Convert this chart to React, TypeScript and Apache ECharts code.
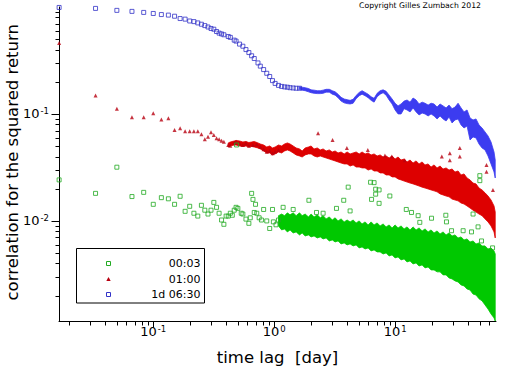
import React, { useEffect, useRef } from 'react';
import * as echarts from 'echarts';

// x values are lag indices k; one lag step is 24 minutes = 1/60 day
const LAG_STEP_DAYS = 1 / 60;
const X_MIN = 0.01663;
const X_MAX = 68;
const Y_MIN = 0.00116;
const Y_MAX = 1;
const SERIES_NAMES = ['00:03', '01:00', '1d 06:30'];
const X_LABEL_EXPONENTS = [-1, 0, 1];
const Y_LABEL_EXPONENTS = [-2, -1];
const X_TITLE = 'time lag\u00a0 [day]';
const Y_TITLE = 'correlation for the squared return';
const COPYRIGHT = 'Copyright Gilles Zumbach 2012';

// ---- 1d 06:30 (blue) : [k, value]
const BLUE_POINTS: number[][] = [
  [1, 0.99], [2, 0.97], [3, 0.93], [4, 0.91], [5, 0.89], [6, 0.87], [7, 0.85], [8, 0.84], [9, 0.82],
  [10, 0.78], [11, 0.77], [12, 0.74], [13, 0.73], [14, 0.71], [15, 0.69], [16, 0.67], [17, 0.65],
  [18, 0.63], [19, 0.62], [20, 0.59], [21, 0.57], [22, 0.56], [23, 0.55], [25, 0.53], [26, 0.52],
  [28, 0.49], [29, 0.48], [31, 0.45], [33, 0.43], [35, 0.4], [37, 0.375], [39, 0.35], [41, 0.33],
  [44, 0.3], [46, 0.28], [49, 0.26], [52, 0.24], [55, 0.224], [58, 0.205], [61, 0.193], [65, 0.185],
  [69, 0.181], [73, 0.179], [77, 0.178], [81, 0.176], [86, 0.175], [91, 0.174], [97, 0.174],
];
// dense part : [k, upper value, lower value]
const BLUE_BAND: number[][] = [
  [97, 0.18, 0.169], [102, 0.178, 0.167], [108, 0.176, 0.165], [115, 0.173, 0.161], [121, 0.168, 0.158],
  [128, 0.167, 0.156], [136, 0.165, 0.155], [144, 0.165, 0.155], [152, 0.167, 0.156], [161, 0.17, 0.16],
  [171, 0.17, 0.16], [181, 0.165, 0.153], [191, 0.161, 0.15], [202, 0.153, 0.142], [214, 0.143, 0.132],
  [227, 0.138, 0.127], [240, 0.136, 0.125], [254, 0.134, 0.124], [269, 0.137, 0.126], [285, 0.149, 0.139],
  [302, 0.159, 0.148], [319, 0.165, 0.153], [338, 0.159, 0.148], [358, 0.153, 0.142], [379, 0.145, 0.134],
  [401, 0.14, 0.129], [425, 0.156, 0.145], [450, 0.165, 0.153], [476, 0.168, 0.158], [504, 0.163, 0.15],
  [534, 0.15, 0.135], [565, 0.138, 0.124], [598, 0.126, 0.109], [633, 0.119, 0.1], [670, 0.124, 0.1],
  [710, 0.132, 0.112], [751, 0.135, 0.109], [795, 0.129, 0.1045], [842, 0.141, 0.114], [892, 0.135, 0.1045],
  [944, 0.124, 0.0979], [1000, 0.129, 0.102], [1058, 0.126, 0.1], [1121, 0.121, 0.0958], [1186, 0.126, 0.1],
  [1256, 0.124, 0.0958], [1330, 0.116, 0.0898], [1408, 0.124, 0.0958], [1490, 0.119, 0.0898],
  [1578, 0.114, 0.086], [1670, 0.121, 0.0938], [1768, 0.112, 0.0824], [1872, 0.116, 0.0879],
  [1982, 0.126, 0.0898], [2098, 0.114, 0.0789], [2221, 0.1045, 0.074], [2352, 0.109, 0.0772],
  [2490, 0.0918, 0.0571], [2636, 0.0879, 0.061], [2790, 0.0898, 0.0597], [2954, 0.0789, 0.0524],
  [3128, 0.074, 0.0481], [3311, 0.0679, 0.0461], [3505, 0.0623, 0.0405], [3711, 0.0547, 0.0341],
  [3929, 0.0441, 0.0287], [4020, 0.0371, 0.0252],
];

// ---- 01:00 (red) : [k, value]
const RED_POINTS: number[][] = [
  [1, 0.46], [2, 0.149], [3, 0.112], [4, 0.093], [5, 0.093], [6, 0.1015], [7, 0.089], [8, 0.091],
  [9, 0.071], [10, 0.0735], [11, 0.069], [12, 0.069], [13, 0.069], [14, 0.069], [15, 0.0646], [16, 0.058],
  [17, 0.0613], [18, 0.0674], [19, 0.0636], [20, 0.0593], [21, 0.058], [22, 0.0563], [23, 0.0551],
  [25, 0.0513], [26, 0.0505], [28, 0.0539], [29, 0.0551], [31, 0.0532], [33, 0.0513], [35, 0.0532],
  [37, 0.0505], [40, 0.0513], [43, 0.0521], [46, 0.0495], [49, 0.0468], [52, 0.0444], [55, 0.0454],
  [58, 0.043], [61, 0.0444], [65, 0.0461],
  [138, 0.066], [182, 0.057], [239, 0.048], [356, 0.046], [493, 0.041], [562, 0.04], [719, 0.037],
  [1455, 0.04], [1694, 0.043], [1694, 0.037], [2050, 0.048], [2050, 0.04], [3406, 0.0334], [3406, 0.0289],
  [3850, 0.0195],
];
const RED_BAND: number[][] = [
  [25, 0.0536, 0.0491], [26, 0.0547, 0.0502], [28, 0.0559, 0.0513], [29, 0.0565, 0.0513], [31, 0.0559, 0.0502],
  [33, 0.0547, 0.0497], [35, 0.0553, 0.0502], [37, 0.0541, 0.0491], [39, 0.0547, 0.0497], [41, 0.0553, 0.0491],
  [44, 0.0536, 0.0481], [46, 0.0524, 0.0471], [49, 0.0513, 0.0451], [52, 0.0491, 0.0432], [55, 0.0502, 0.0432],
  [58, 0.0481, 0.0414], [61, 0.0491, 0.0423], [65, 0.0513, 0.0441], [69, 0.0502, 0.0432], [73, 0.0524, 0.0451],
  [77, 0.0536, 0.0461], [81, 0.0524, 0.0451], [86, 0.0502, 0.0432], [91, 0.0481, 0.0414], [97, 0.0471, 0.0405],
  [102, 0.0451, 0.0396], [108, 0.0481, 0.0414], [115, 0.0491, 0.0423], [121, 0.0502, 0.0423],
  [128, 0.0471, 0.0405], [136, 0.0481, 0.0396], [144, 0.0461, 0.0405], [152, 0.0471, 0.0396],
  [161, 0.0451, 0.0388], [171, 0.0461, 0.0379], [181, 0.0441, 0.0371], [191, 0.0451, 0.0364],
  [202, 0.0432, 0.0356], [214, 0.0441, 0.0348], [227, 0.0423, 0.0341], [240, 0.0441, 0.0341],
  [254, 0.0423, 0.0326], [269, 0.0432, 0.0334], [285, 0.0441, 0.0319], [302, 0.0423, 0.0319],
  [319, 0.0441, 0.0313], [338, 0.0423, 0.0313], [358, 0.0432, 0.0299], [379, 0.0414, 0.0306],
  [401, 0.0423, 0.0293], [425, 0.0405, 0.0293], [450, 0.0414, 0.0281], [476, 0.0396, 0.0281],
  [504, 0.0405, 0.0269], [534, 0.0388, 0.0269], [565, 0.0405, 0.0258], [598, 0.0379, 0.0258],
  [633, 0.0396, 0.0247], [670, 0.0371, 0.0242], [710, 0.0379, 0.0236], [751, 0.0356, 0.0231],
  [795, 0.0371, 0.0226], [842, 0.0348, 0.0222], [892, 0.0364, 0.0217], [944, 0.0341, 0.0212],
  [1000, 0.0356, 0.0207], [1058, 0.0334, 0.0203], [1121, 0.0341, 0.0199], [1186, 0.0319, 0.0195],
  [1256, 0.0334, 0.0191], [1330, 0.0313, 0.0187], [1408, 0.0326, 0.0179], [1490, 0.0306, 0.0175],
  [1578, 0.0313, 0.0171], [1670, 0.0299, 0.0168], [1768, 0.0306, 0.016], [1872, 0.0287, 0.0157],
  [1982, 0.0293, 0.0154], [2098, 0.0269, 0.0147], [2221, 0.0275, 0.0144], [2352, 0.0252, 0.0138],
  [2490, 0.0242, 0.0132], [2636, 0.0226, 0.0126], [2790, 0.0222, 0.0121], [2954, 0.0203, 0.0116],
  [3128, 0.0195, 0.0112], [3311, 0.0183, 0.01045], [3505, 0.0171, 0.00979], [3711, 0.0157, 0.00898],
  [3929, 0.0138, 0.00789], [4020, 0.0121, 0.00693],
];

// ---- 00:03 (green) : [k, value]
const GREEN_POINTS: number[][] = [
  [1, 0.0242], [2, 0.0181], [3, 0.0318], [4, 0.0169], [5, 0.0185], [6, 0.0143], [7, 0.0165], [8, 0.0161],
  [9, 0.0143], [10, 0.017], [11, 0.0123], [12, 0.0137], [13, 0.0118], [14, 0.0111], [15, 0.014], [16, 0.0126],
  [17, 0.0116], [18, 0.0126], [19, 0.0149], [20, 0.0134], [21, 0.0118], [22, 0.0102], [23, 0.0093],
  [24, 0.0111], [25, 0.0111], [26, 0.0118], [27, 0.0113], [28, 0.0126], [29, 0.0134], [30, 0.0131],
  [32, 0.0118], [33, 0.0116], [35, 0.0104], [37, 0.0095], [38, 0.0107], [39, 0.0181], [40, 0.0159],
  [41, 0.012], [42, 0.0143], [43, 0.0118], [45, 0.0107], [47, 0.0102], [49, 0.0128], [52, 0.01],
  [55, 0.0085], [58, 0.0128], [59, 0.0098], [62, 0.0092], [65, 0.0102],
  [29.3, 0.0513], [71, 0.0134], [86, 0.0128], [116, 0.0156], [134, 0.012], [152, 0.0118], [196, 0.0131],
  [225, 0.0156], [245, 0.0207], [254, 0.0124], [375, 0.023], [401, 0.0228], [413, 0.0198], [441, 0.0195],
  [413, 0.0178], [382, 0.0159], [441, 0.0146], [541, 0.0171], [740, 0.0128], [817, 0.012], [927, 0.0112],
  [957, 0.0097], [1196, 0.0106], [1570, 0.0113], [1590, 0.0098], [1750, 0.0081], [2183, 0.0081],
  [2560, 0.0079], [2637, 0.0116], [2900, 0.0088], [3000, 0.0265], [3000, 0.0238], [3097, 0.0065],
  [3820, 0.0056],
];
const GREEN_BAND: number[][] = [
  [65, 0.0112, 0.00898], [69, 0.0116, 0.00824], [73, 0.0112, 0.00842], [77, 0.0119, 0.00789],
  [81, 0.0114, 0.00824], [86, 0.0119, 0.00772], [91, 0.0112, 0.00789], [97, 0.0119, 0.0074],
  [102, 0.0112, 0.00772], [108, 0.0116, 0.00724], [115, 0.0109, 0.0074], [121, 0.0116, 0.00709],
  [128, 0.0109, 0.00724], [136, 0.0114, 0.00693], [144, 0.0107, 0.00709], [152, 0.0112, 0.00679],
  [161, 0.01045, 0.00693], [171, 0.0109, 0.0065], [181, 0.0102, 0.00664], [191, 0.0107, 0.00636],
  [202, 0.01, 0.0065], [214, 0.01045, 0.0061], [227, 0.00979, 0.00623], [240, 0.0102, 0.00597],
  [254, 0.00979, 0.0061], [269, 0.0102, 0.00584], [285, 0.00958, 0.00597], [302, 0.01, 0.00559],
  [319, 0.00937, 0.00571], [338, 0.00979, 0.00547], [358, 0.00917, 0.00559], [379, 0.00979, 0.00524],
  [401, 0.00917, 0.00536], [425, 0.00958, 0.00513], [450, 0.00898, 0.00513], [476, 0.00937, 0.00491],
  [504, 0.00879, 0.00502], [534, 0.00917, 0.00471], [565, 0.0086, 0.00481], [598, 0.00917, 0.00451],
  [633, 0.0086, 0.00461], [670, 0.00898, 0.00432], [710, 0.00842, 0.00441], [751, 0.00879, 0.00414],
  [795, 0.00824, 0.00423], [842, 0.00879, 0.00396], [892, 0.00824, 0.00405], [944, 0.0086, 0.00379],
  [1000, 0.00806, 0.00388], [1058, 0.00842, 0.00364], [1121, 0.00789, 0.00371], [1186, 0.00824, 0.00348],
  [1256, 0.00772, 0.00348], [1330, 0.00806, 0.00334], [1408, 0.00756, 0.00334], [1490, 0.00789, 0.00313],
  [1578, 0.0074, 0.00313], [1670, 0.00772, 0.00293], [1768, 0.00724, 0.00287], [1872, 0.0074, 0.00275],
  [1982, 0.00693, 0.00269], [2098, 0.00709, 0.00252], [2221, 0.00664, 0.00247], [2352, 0.00679, 0.00231],
  [2490, 0.00636, 0.00226], [2636, 0.0065, 0.00207], [2790, 0.0061, 0.00203], [2954, 0.00623, 0.00187],
  [3128, 0.00584, 0.00179], [3311, 0.00584, 0.00164], [3505, 0.00547, 0.0015], [3711, 0.00559, 0.00135],
  [3929, 0.00524, 0.00124], [4020, 0.00491, 0.00116],
];

const FONT = 'DejaVu Sans, Liberation Sans, Arial, sans-serif';
const GREEN = '#00c800';
const GREEN_MARK = '#22aa22';
const RED = '#dd0000';
const RED_MARK = '#b80010';
const BLUE = '#3c3cf0';
const BLUE_MARK = '#3333c8';

const toXY = (rows: number[][]) => rows.map((r) => [r[0] * LAG_STEP_DAYS, r[1]]);

// one polygon per band, its outline going along the upper values and back along the lower ones
function bandSeries(band: number[][], color: string, z: number) {
  return {
    type: 'custom',
    coordinateSystem: 'cartesian2d',
    silent: true,
    z,
    clip: true,
    data: toXY(band),
    renderItem: (params: any, api: any) => {
      if (params.dataIndex !== 0) return null;
      const upper = band.map((r) => {
        const p = api.coord([r[0] * LAG_STEP_DAYS, r[1]]);
        return [p[0], p[1]];
      });
      const lower = band.map((r) => {
        const p = api.coord([r[0] * LAG_STEP_DAYS, r[2]]);
        return [p[0], p[1]];
      }).reverse();
      return {
        type: 'polygon',
        shape: { points: upper.concat(lower) },
        style: { fill: color, stroke: color, lineWidth: 0.8 },
      };
    },
  };
}

const expFormatter = (allowed: number[]) => (v: number) => {
  const e = Math.log10(v);
  const r = Math.round(e);
  if (Math.abs(e - r) > 1e-6 || allowed.indexOf(r) < 0) return '';
  return `{b|10}{s|${r}}`;
};

const labelRich = {
  b: { fontSize: 13, lineHeight: 15, fontFamily: FONT, color: '#000' },
  s: { fontSize: 8.5, verticalAlign: 'top', fontFamily: FONT, color: '#000', padding: [0, 0, 0, 1] },
};

export default function App() {
  const ref = useRef<HTMLDivElement>(null);
  useEffect(() => {
    if (!ref.current) return;
    const chart = echarts.init(ref.current, undefined, { renderer: 'svg' });
    chart.setOption({
      animation: false,
      backgroundColor: '#fff',
      grid: { left: 59, right: 16, top: 7, bottom: 45, containLabel: false, outerBoundsMode: 'none' },
      xAxis: {
        type: 'log',
        logBase: 10,
        min: X_MIN,
        max: X_MAX,
        axisLine: { show: true, onZero: false, lineStyle: { color: '#000', width: 1 } },
        axisTick: { show: false },
        minorTick: { show: false },
        splitLine: { show: false },
        axisLabel: { formatter: expFormatter(X_LABEL_EXPONENTS), rich: labelRich, margin: 3 },
        name: X_TITLE,
        nameLocation: 'middle',
        nameGap: 28,
        nameTextStyle: { fontSize: 16.5, color: '#000', fontFamily: FONT },
      },
      yAxis: {
        type: 'log',
        logBase: 10,
        min: Y_MIN,
        max: Y_MAX,
        axisLine: { show: true, onZero: false, lineStyle: { color: '#000', width: 1 } },
        axisTick: { show: false },
        minorTick: { show: false },
        splitLine: { show: false },
        axisLabel: { formatter: expFormatter(Y_LABEL_EXPONENTS), rich: labelRich, margin: 10 },
      },
      series: [
        bandSeries(BLUE_BAND, BLUE, 2),
        {
          type: 'scatter', name: SERIES_NAMES[2], data: toXY(BLUE_POINTS), symbol: 'rect', symbolSize: 4,
          itemStyle: { color: 'rgba(0,0,0,0)', borderColor: BLUE_MARK, borderWidth: 1 }, z: 3, silent: true,
        },
        bandSeries(RED_BAND, RED, 4),
        {
          type: 'scatter', name: SERIES_NAMES[1], data: toXY(RED_POINTS), symbol: 'triangle', symbolSize: 4,
          itemStyle: { color: RED_MARK }, z: 5, silent: true,
        },
        bandSeries(GREEN_BAND, GREEN, 6),
        {
          type: 'scatter', name: SERIES_NAMES[0], data: toXY(GREEN_POINTS), symbol: 'rect', symbolSize: 4,
          itemStyle: { color: 'rgba(0,0,0,0)', borderColor: GREEN_MARK, borderWidth: 1 }, z: 7, silent: true,
        },
      ],
    });

    const px = (v: number) => chart.convertToPixel({ xAxisIndex: 0 }, v) as number;
    const py = (v: number) => chart.convertToPixel({ yAxisIndex: 0 }, v) as number;
    const x0 = Math.round(px(X_MIN)) + 0.5;
    const y0 = Math.round(py(Y_MIN)) + 0.5;
    const yTop = py(Y_MAX);
    const els: any[] = [];
    const line = (x1: number, y1: number, x2: number, y2: number) => ({
      type: 'line', silent: true, z: 50,
      shape: { x1, y1, x2, y2 }, style: { stroke: '#000', lineWidth: 1 },
    });
    for (let e = -2; e <= 1; e++) {
      for (let m = 1; m <= 9; m++) {
        const v = m * Math.pow(10, e);
        if (v <= X_MIN * 1.001 || v >= X_MAX * 0.999) continue;
        const x = Math.round(px(v)) + 0.5;
        els.push(line(x, y0, x, y0 + (m === 1 ? 6 : 4)));
      }
    }
    for (let e = -3; e <= 0; e++) {
      for (let m = 1; m <= 9; m++) {
        const v = m * Math.pow(10, e);
        if (v <= Y_MIN * 1.001 || v >= Y_MAX * 0.999) continue;
        const y = Math.round(py(v)) + 0.5;
        els.push(line(x0, y, x0 - (m === 1 ? 8 : 4), y));
      }
    }
    // y axis title, read bottom to top
    els.push({
      type: 'text', z: 61, silent: true,
      x: 12.5, y: (y0 + yTop) / 2 - 2, rotation: Math.PI / 2,
      style: { text: Y_TITLE, x: 0, y: 0, align: 'center', verticalAlign: 'middle', fontSize: 16.5, fontFamily: FONT, fill: '#000' },
    });
    // legend box
    els.push({
      type: 'rect', z: 60, silent: true,
      shape: { x: 76.5, y: 248.5, width: 128, height: 54.5 },
      style: { fill: '#fff', stroke: '#000', lineWidth: 1 },
    });
    els.push({
      type: 'rect', z: 61, silent: true, shape: { x: 106.5, y: 261.5, width: 4, height: 4 },
      style: { fill: 'none', stroke: GREEN_MARK, lineWidth: 1 },
    });
    els.push({
      type: 'polygon', z: 61, silent: true, shape: { points: [[108.5, 277], [106.3, 281], [110.7, 281]] },
      style: { fill: RED_MARK },
    });
    els.push({
      type: 'rect', z: 61, silent: true, shape: { x: 106.5, y: 292.5, width: 4, height: 4 },
      style: { fill: 'none', stroke: BLUE_MARK, lineWidth: 1 },
    });
    const legendY = [263.5, 279, 294.5];
    SERIES_NAMES.forEach((n, i) => {
      els.push({
        type: 'text', z: 61, silent: true,
        style: { text: n, x: 200.5, y: legendY[i], align: 'right', verticalAlign: 'middle', fontSize: 11, fontFamily: FONT, fill: '#000' },
      });
    });
    els.push({
      type: 'text', z: 61, silent: true,
      style: { text: COPYRIGHT, x: 420, y: 5, align: 'center', verticalAlign: 'middle', fontSize: 7.7, fontFamily: FONT, fill: '#000' },
    });
    chart.setOption({ graphic: { elements: els } });

    return () => chart.dispose();
  }, []);
  return (
    <div
      ref={ref}
      style={{ position: 'fixed', left: 0, top: 0, width: 512, height: 366, background: '#fff' }}
    />
  );
}
